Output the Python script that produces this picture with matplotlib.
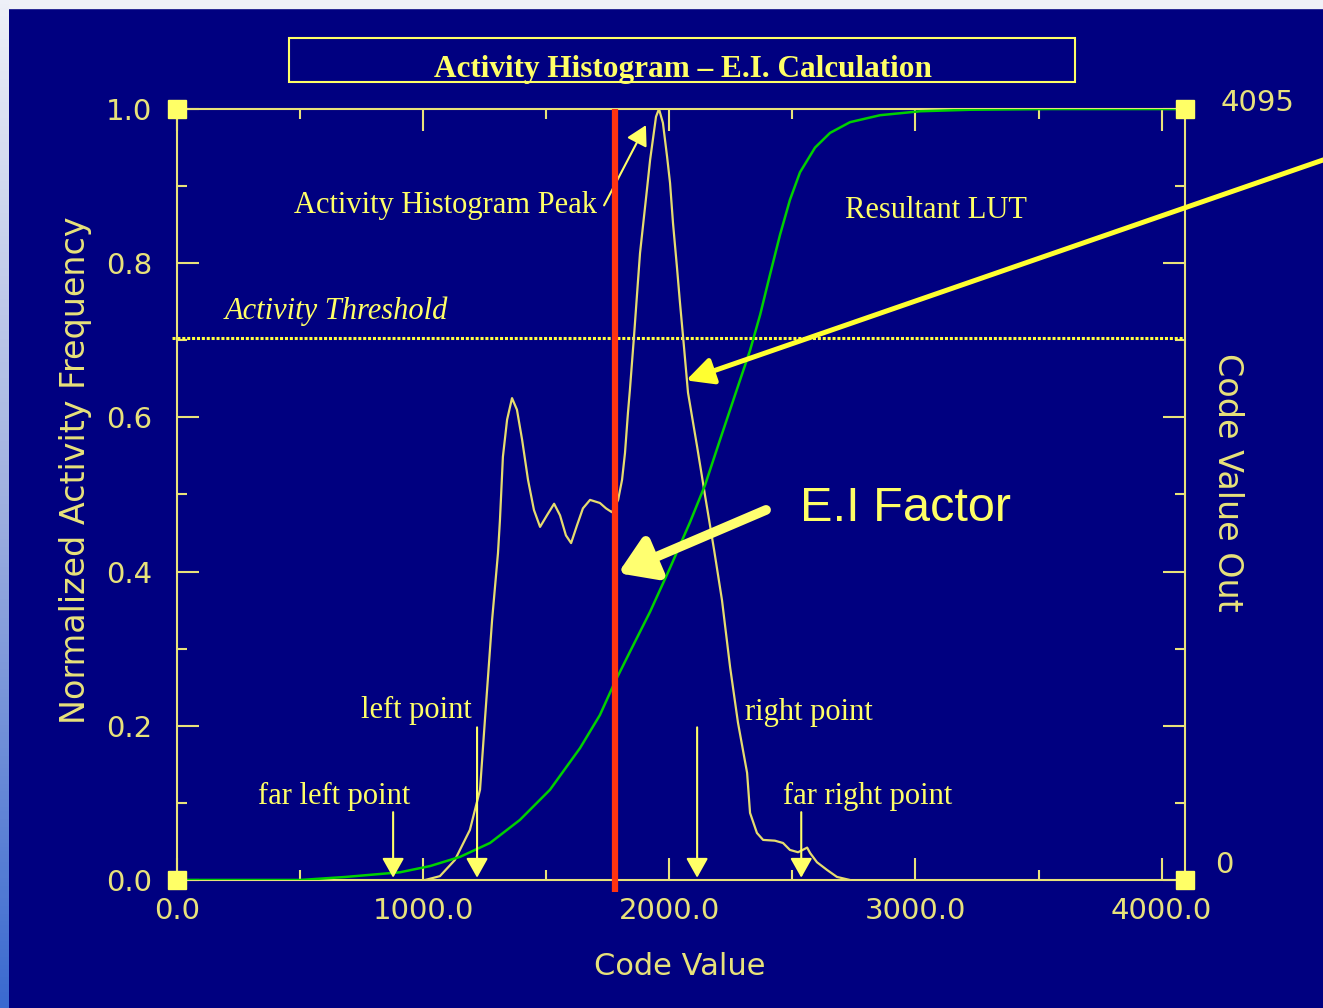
import matplotlib
matplotlib.use("Agg")
import numpy as np
import matplotlib.pyplot as plt
from matplotlib.patches import Rectangle
from matplotlib.ticker import FixedLocator, MultipleLocator
from matplotlib.colors import LinearSegmentedColormap

# activity histogram (code value, normalized frequency)
hist_code = [1000, 1008, 1068, 1129, 1190, 1231, 1251, 1280, 1304, 1312, 1324, 1341, 1361,
             1381, 1402, 1426, 1450, 1475, 1503, 1532, 1556, 1580, 1601, 1625, 1649, 1678,
             1718, 1743, 1767, 1792, 1808, 1820, 1832, 1840, 1857, 1873, 1881, 1909, 1922,
             1946, 1958, 1974, 1991, 2003, 2015, 2031, 2043, 2060, 2076, 2113, 2145, 2182,
             2214, 2247, 2279, 2316, 2328, 2356, 2381, 2429, 2462, 2490, 2523, 2560, 2572,
             2600, 2641, 2681, 2734]
hist_freq = [0.0, 0.0, 0.005, 0.026, 0.065, 0.117, 0.208, 0.337, 0.424, 0.467, 0.549, 0.597, 0.625,
             0.610, 0.571, 0.519, 0.480, 0.458, 0.473, 0.488, 0.473, 0.447, 0.437, 0.460, 0.482, 0.493,
             0.489, 0.482, 0.477, 0.493, 0.519, 0.554, 0.606, 0.636, 0.707, 0.778, 0.813, 0.895, 0.934,
             0.990, 1.0, 0.982, 0.938, 0.904, 0.852, 0.795, 0.75, 0.69, 0.632, 0.562, 0.499, 0.428,
             0.363, 0.276, 0.204, 0.139, 0.087, 0.061, 0.052, 0.051, 0.048, 0.039, 0.036, 0.042, 0.035,
             0.023, 0.013, 0.004, 0.0]

# resultant LUT (code value in -> code value out)
lut_code = [0, 500, 683, 906, 1028, 1150, 1272, 1393, 1515, 1637, 1718, 1779, 1840, 1922, 2003,
            2084, 2145, 2206, 2267, 2328, 2369, 2409, 2450, 2490, 2531, 2592, 2653, 2734, 2856,
            3019, 3222, 3547, 4095]
lut_frac = [0.0, 0.0, 0.004, 0.010, 0.018, 0.030, 0.048, 0.078, 0.117, 0.171, 0.214, 0.257, 0.296,
            0.348, 0.405, 0.464, 0.512, 0.571, 0.629, 0.687, 0.733, 0.785, 0.837, 0.882, 0.918,
            0.950, 0.969, 0.983, 0.992, 0.997, 0.999, 1.0, 1.0]
lut_out = [round(f * 4095) for f in lut_frac]

x_ticks = [0, 1000, 2000, 3000, 4000]
x_labels = ["0.0", "1000.0", "2000.0", "3000.0", "4000.0"]
y_ticks = [0.0, 0.2, 0.4, 0.6, 0.8, 1.0]
y_labels = ["0.0", "0.2", "0.4", "0.6", "0.8", "1.0"]

threshold = 0.703
ei_code = 1780
far_left, left_pt, right_pt, far_right = 878, 1219, 2113, 2536

navy = "#000080"
fg = "#e8e27a"
yel = "#ffff66"
serif = "Liberation Serif"

fig = plt.figure(figsize=(13.23, 10.08), dpi=100, facecolor=navy)
ax = fig.add_axes([177 / 1323, 128 / 1008, 1008 / 1323, 771 / 1008])
ax.set_facecolor(navy)
ax.set_xlim(0, 4095)
ax.set_ylim(0, 1)

# side strip and top band of the slide
gax = fig.add_axes([0, 0, 9 / 1323, 1])
cm = LinearSegmentedColormap.from_list("strip", ["#3a6ad0", "#9fb0e0", "#eef0f8"])
gax.imshow(np.linspace(0, 1, 256)[:, None], aspect="auto", cmap=cm, origin="lower")
gax.axis("off")
fig.add_artist(Rectangle((0, 1 - 8 / 1008), 1, 8 / 1008, transform=fig.transFigure,
                         color="#f0f1f7", zorder=0))

for s in ax.spines.values():
    s.set_color(fg)
    s.set_linewidth(1.5)

ax.xaxis.set_major_locator(FixedLocator(x_ticks))
ax.set_xticklabels(x_labels)
ax.xaxis.set_minor_locator(MultipleLocator(500))
ax.yaxis.set_major_locator(FixedLocator(y_ticks))
ax.set_yticklabels(y_labels)
ax.yaxis.set_minor_locator(MultipleLocator(0.1))
ax.tick_params(which="both", direction="in", colors=fg, width=1.5, top=True, right=True,
               labelsize=21)
ax.tick_params(which="major", length=16)
ax.tick_params(which="minor", length=7.5)
ax.tick_params(axis="x", pad=12)
ax.tick_params(axis="y", pad=18)

# curves
ax.plot(hist_code, hist_freq, color="#e6dc6e", lw=1.6, zorder=3)
ax.plot(lut_code, np.array(lut_out) / 4095, color="#00d000", lw=1.8, zorder=3)
ax.axhline(threshold, xmin=-0.005, xmax=1, color="#ffff40", lw=2.2, ls=(0, (1, 0.6)),
           clip_on=False, zorder=2)
ax.plot([ei_code, ei_code], [1.0, -0.016], color="#ff3311", lw=4.5, clip_on=False, zorder=5,
        solid_capstyle="butt")

# corner markers
for cx, cy in [(0, 0), (0, 1), (1, 0), (1, 1)]:
    ax.plot(cx, cy, "s", ms=13, color=yel, transform=ax.transAxes, clip_on=False, zorder=6)

# right axis labels
ax.text(1.035, 1.008, "4095", transform=ax.transAxes, color=fg, fontsize=21,
        ha="left", va="center")
ax.text(1.030, 0.0195, "0", transform=ax.transAxes, color=fg, fontsize=21,
        ha="left", va="center")

fig.text(0.057, 0.534, "Normalized Activity Frequency", rotation=90, color=fg, fontsize=24,
         ha="center", va="center")
fig.text(0.514, 0.041, "Code Value", color=fg, fontsize=22, ha="center", va="center")
fig.text(0.928, 0.522, "Code Value Out", rotation=-90, color=fg, fontsize=24,
         ha="center", va="center")

# title box
fig.add_artist(Rectangle((289 / 1323, 1 - 82 / 1008), 786 / 1323, 44 / 1008,
                         transform=fig.transFigure, fill=False, edgecolor=yel, lw=1.5))
fig.text(683 / 1323, 1 - 69 / 1008, "Activity Histogram \u2013 E.I. Calculation",
         family=serif, weight="bold", fontsize=22.5, color=yel, ha="center", va="center")

# annotations
tk = dict(family=serif, fontsize=22, color=yel, ha="left", va="center")
ax.text(475, 0.875, "Activity Histogram Peak", **tk)
ax.text(2714, 0.868, "Resultant LUT", **tk)
ax.text(195, 0.738, "Activity Threshold", style="italic", **tk)
ax.text(748, 0.220, "left point", **tk)
ax.text(2308, 0.217, "right point", **tk)
ax.text(329, 0.108, "far left point", **tk)
ax.text(2462, 0.108, "far right point", **tk)
ax.text(2531, 0.482, "E.I Factor", family="Liberation Sans", fontsize=35, color=yel,
        ha="left", va="center")

thin = dict(arrowstyle="-|>,head_length=0.8,head_width=0.45", mutation_scale=15, lw=1.5,
            color=yel, shrinkA=0, shrinkB=0)
ax.annotate("", xy=(1905, 0.979), xytext=(1735, 0.875), arrowprops=thin)
for xc, top in [(far_left, 0.088), (left_pt, 0.198), (right_pt, 0.198), (far_right, 0.088)]:
    ax.annotate("", xy=(xc, 0.003), xytext=(xc, top), arrowprops=thin)

ax.annotate("", xy=(2068, 0.648), xytext=(4657, 0.934), annotation_clip=False,
            arrowprops=dict(arrowstyle="-|>,head_length=0.9,head_width=0.45", mutation_scale=18,
                            lw=3.6, color="#ffff30", shrinkA=0, shrinkB=0))
ax.annotate("", xy=(1792, 0.398), xytext=(2393, 0.480), annotation_clip=False,
            arrowprops=dict(arrowstyle="-|>,head_length=0.7,head_width=0.45", mutation_scale=30,
                            lw=7, color="#ffff70", shrinkA=0, shrinkB=0), zorder=7)

fig.savefig("out.png", dpi=100, facecolor=fig.get_facecolor())
